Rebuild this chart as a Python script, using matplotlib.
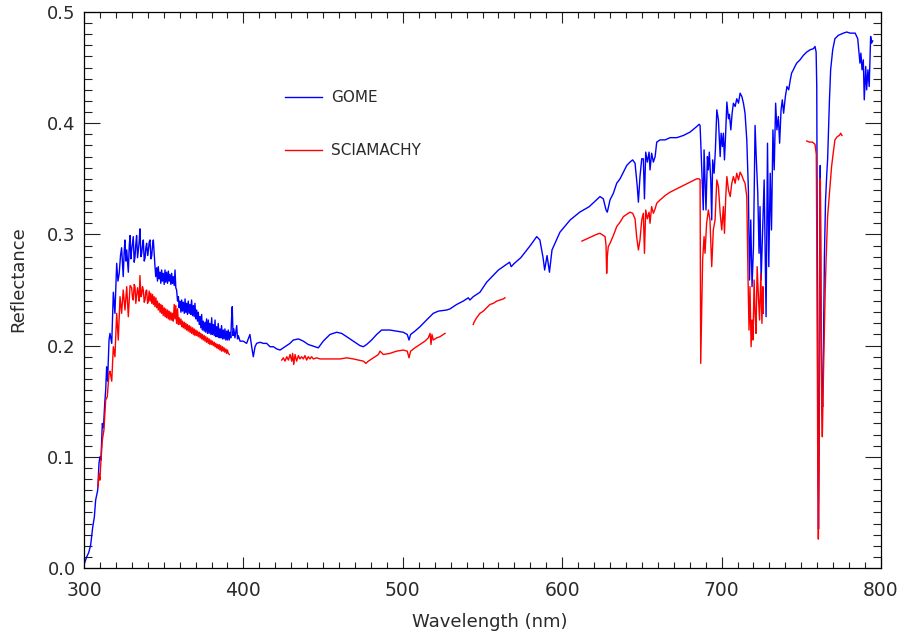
import numpy as np
import matplotlib
matplotlib.use('Agg')
import matplotlib.pyplot as plt
from matplotlib.ticker import MultipleLocator

# GOME reflectance spectrum (wavelength in nm, reflectance)
gome_wl = [
    300.0, 301.7, 303.0, 304.2, 305.4, 306.5, 307.3, 308.6, 309.4, 310.0,
    310.6, 311.5, 312.2, 313.0, 313.6, 314.2, 314.8, 315.7, 316.3, 317.4,
    318.4, 319.4, 320.5, 321.3, 322.1, 322.9, 323.6, 324.6, 325.2, 325.7,
    326.3, 326.8, 327.8, 328.4, 328.9, 329.4, 329.9, 330.4, 330.9, 331.5,
    332.0, 332.5, 333.0, 333.6, 334.1, 334.6, 335.1, 335.7, 336.2, 336.7,
    337.2, 337.8, 338.3, 338.8, 339.3, 339.9, 340.4, 340.9, 341.4, 342.0,
    342.5, 343.0, 343.5, 344.0, 344.5, 345.0, 345.6, 346.1, 346.6, 347.2,
    347.7, 348.2, 348.7, 349.2, 349.7, 350.3, 350.8, 351.3, 351.8, 352.4,
    352.9, 353.4, 353.9, 354.5, 355.0, 355.5, 356.0, 356.6, 357.1, 357.6,
    358.1, 358.7, 359.2, 359.7, 360.2, 360.8, 361.3, 361.8, 362.3, 362.9,
    363.4, 363.9, 364.4, 364.9, 365.4, 366.0, 366.5, 367.0, 367.5, 368.1,
    368.6, 369.1, 369.6, 370.2, 370.7, 371.2, 371.7, 372.3, 372.8, 373.3,
    373.8, 374.3, 374.8, 375.4, 375.9, 376.4, 376.9, 377.5, 378.0, 378.5,
    379.0, 379.6, 380.1, 380.6, 381.1, 381.7, 382.2, 382.7, 383.2, 383.7,
    384.2, 384.8, 385.3, 385.8, 386.3, 386.9, 387.4, 387.9, 388.4, 389.0,
    389.5, 390.0, 390.5, 391.1, 391.6, 392.1, 392.5, 393.0, 393.5, 394.0,
    394.7, 395.3, 395.8, 396.3, 396.8, 397.9, 399.9, 402.0, 404.1,
    405.2, 406.2, 407.3, 408.3, 410.4, 412.5, 414.6, 416.7, 418.8, 420.9,
    423.0, 425.1, 427.2, 429.2, 431.3, 434.5, 437.6, 440.7, 444.9, 447.0,
    450.1, 454.3, 458.5, 461.6, 464.8, 468.9, 473.1, 475.2, 477.3, 480.4,
    483.6, 486.7, 491.9, 496.1, 500.3, 502.8, 503.9, 504.9, 507.6, 510.8,
    514.9, 519.1, 522.3, 527.5, 529.6, 533.8, 537.9, 541.1, 542.1, 544.2,
    548.4, 552.6, 556.0, 560.0, 564.0, 567.0, 568.0, 570.0, 574.0, 580.0,
    584.0, 586.0, 588.0, 589.0, 590.5, 592.0, 593.6, 598.6, 605.0, 611.0,
    617.0, 623.7, 625.8, 627.5, 628.3, 630.0, 632.1, 634.2, 636.3, 638.4,
    640.5, 642.5, 644.2, 645.7, 647.1, 647.8, 648.8, 649.9, 650.9, 651.6,
    652.4, 653.4, 654.5, 655.1, 656.1, 657.2, 658.3, 659.3, 661.4, 664.6,
    667.7, 671.9, 676.1, 680.2, 684.4, 685.9, 686.5, 687.1, 688.5, 689.0,
    689.6, 690.2, 691.1, 691.7, 692.3, 693.2, 693.8, 694.4, 695.3, 696.1,
    697.0, 698.0, 699.1, 699.7, 700.5, 701.1, 701.8, 702.4, 703.3, 704.3,
    704.9, 705.8, 706.6, 707.4, 708.5, 709.5, 710.6, 711.6, 712.7, 713.7,
    714.7, 715.8, 716.8, 717.5, 718.3, 719.1, 720.0, 721.0, 721.8, 722.7,
    723.5, 724.1, 724.8, 725.6, 726.7, 727.3, 727.9, 728.8, 729.6, 730.5,
    731.3, 732.2, 733.0, 733.9, 734.7, 735.6, 736.4, 737.3, 738.1, 738.9,
    740.0, 741.0, 742.1, 743.1, 743.9, 745.0, 746.0, 747.1, 749.2, 751.3,
    753.4, 755.5, 757.6, 758.6, 759.3, 759.7, 760.1, 760.5, 760.8, 761.2,
    761.6, 761.9, 762.3, 762.8, 763.4, 763.9, 764.5, 765.2, 766.0, 766.5,
    767.6, 768.4, 769.7, 771.1, 773.2, 776.4, 778.5, 780.6, 783.8, 785.4,
    786.4, 786.8, 787.4, 788.1, 788.9, 789.5, 790.4, 791.0, 791.8, 792.6,
    793.5, 794.1, 794.8,
]
gome_refl = [
    0.003, 0.010, 0.014, 0.021, 0.036, 0.046, 0.061, 0.070, 0.094, 0.100,
    0.097, 0.130, 0.126, 0.148, 0.160, 0.181, 0.168, 0.205, 0.211, 0.202,
    0.248, 0.229, 0.274, 0.258, 0.265, 0.281, 0.288, 0.262, 0.284, 0.295,
    0.276, 0.286, 0.266, 0.290, 0.299, 0.278, 0.286, 0.292, 0.298, 0.275,
    0.280, 0.291, 0.299, 0.279, 0.286, 0.293, 0.305, 0.280, 0.283, 0.290,
    0.295, 0.276, 0.279, 0.288, 0.292, 0.281, 0.286, 0.293, 0.295, 0.278,
    0.281, 0.290, 0.295, 0.283, 0.272, 0.262, 0.270, 0.258, 0.271, 0.260,
    0.266, 0.256, 0.268, 0.258, 0.265, 0.255, 0.268, 0.257, 0.266, 0.256,
    0.267, 0.258, 0.264, 0.255, 0.265, 0.256, 0.262, 0.254, 0.268, 0.252,
    0.250, 0.240, 0.244, 0.234, 0.240, 0.230, 0.241, 0.231, 0.239, 0.229,
    0.242, 0.230, 0.238, 0.228, 0.240, 0.229, 0.237, 0.228, 0.241, 0.227,
    0.236, 0.226, 0.238, 0.224, 0.232, 0.222, 0.230, 0.219, 0.226, 0.216,
    0.228, 0.214, 0.222, 0.213, 0.221, 0.212, 0.224, 0.211, 0.223, 0.211,
    0.220, 0.210, 0.225, 0.210, 0.219, 0.209, 0.223, 0.208, 0.217, 0.208,
    0.220, 0.207, 0.215, 0.207, 0.218, 0.206, 0.214, 0.206, 0.215, 0.205,
    0.213, 0.205, 0.214, 0.205, 0.212, 0.207, 0.222, 0.235, 0.209, 0.215,
    0.207, 0.213, 0.218, 0.206, 0.209, 0.204, 0.204, 0.202, 0.210,
    0.199, 0.190, 0.199, 0.202, 0.203, 0.202, 0.202, 0.199, 0.199, 0.197,
    0.196, 0.198, 0.200, 0.202, 0.205, 0.206, 0.204, 0.201, 0.199, 0.198,
    0.204, 0.210, 0.212, 0.211, 0.208, 0.204, 0.200, 0.199, 0.201, 0.205,
    0.210, 0.214, 0.214, 0.213, 0.212, 0.210, 0.205, 0.210, 0.213, 0.217,
    0.223, 0.229, 0.231, 0.232, 0.233, 0.237, 0.240, 0.243, 0.241, 0.244,
    0.248, 0.257, 0.262, 0.268, 0.272, 0.275, 0.271, 0.274, 0.279, 0.290,
    0.298, 0.295, 0.279, 0.268, 0.281, 0.266, 0.286, 0.302, 0.313, 0.320,
    0.325, 0.334, 0.332, 0.322, 0.320, 0.331, 0.337, 0.346, 0.350, 0.356,
    0.362, 0.365, 0.367, 0.364, 0.343, 0.329, 0.352, 0.368, 0.368, 0.332,
    0.374, 0.365, 0.374, 0.358, 0.373, 0.365, 0.370, 0.383, 0.385, 0.385,
    0.387, 0.387, 0.389, 0.392, 0.397, 0.399, 0.398, 0.376, 0.322, 0.376,
    0.349, 0.322, 0.370, 0.358, 0.374, 0.349, 0.313, 0.367, 0.355, 0.376,
    0.412, 0.403, 0.370, 0.391, 0.379, 0.391, 0.367, 0.386, 0.419, 0.404,
    0.408, 0.394, 0.409, 0.418, 0.415, 0.422, 0.418, 0.427, 0.424, 0.418,
    0.409, 0.385, 0.340, 0.259, 0.313, 0.253, 0.289, 0.398, 0.367, 0.337,
    0.283, 0.325, 0.259, 0.298, 0.349, 0.289, 0.226, 0.382, 0.271, 0.355,
    0.304, 0.394, 0.358, 0.418, 0.394, 0.406, 0.382, 0.412, 0.421, 0.409,
    0.424, 0.433, 0.430, 0.439, 0.445, 0.448, 0.451, 0.454, 0.457, 0.461,
    0.464, 0.466, 0.467, 0.469, 0.464, 0.433, 0.250, 0.080, 0.035, 0.120,
    0.300, 0.362, 0.250, 0.160, 0.145, 0.200, 0.280, 0.330, 0.355, 0.367,
    0.418, 0.448, 0.466, 0.476, 0.479, 0.481, 0.482, 0.481, 0.481, 0.476,
    0.460, 0.454, 0.463, 0.448, 0.457, 0.421, 0.451, 0.430, 0.448, 0.433,
    0.478, 0.472, 0.474,
]

# SCIAMACHY reflectance, delivered in separate spectral windows
scia_uv_wl = [
    308.8, 309.4, 310.0, 310.4, 311.5, 312.5, 313.6, 314.6, 315.7, 316.3,
    317.4, 318.4, 319.4, 320.5, 321.5, 322.6, 323.6, 324.6, 325.7, 326.8,
    327.8, 328.9, 329.9, 330.4, 330.9, 331.5, 332.0, 332.5, 333.0, 333.6,
    334.1, 334.6, 335.1, 335.7, 336.2, 336.7, 337.2, 337.8, 338.3, 338.8,
    339.3, 339.9, 340.4, 340.9, 341.4, 341.9, 342.5, 343.0, 343.5, 344.0,
    344.5, 345.1, 345.6, 346.1, 346.6, 347.2, 347.7, 348.2, 348.7, 349.2,
    349.7, 350.3, 350.8, 351.3, 351.8, 352.4, 352.9, 353.4, 353.9, 354.5,
    355.0, 355.5, 356.0, 356.6, 357.1, 357.6, 358.1, 358.7, 359.2, 359.7,
    360.2, 360.8, 361.3, 361.8, 362.3, 362.9, 363.4, 363.9, 364.4, 364.9,
    365.4, 366.0, 366.5, 367.0, 367.5, 368.1, 368.6, 369.1, 369.6, 370.2,
    370.7, 371.2, 371.7, 372.3, 372.8, 373.3, 373.8, 374.3, 374.8, 375.4,
    375.9, 376.4, 376.9, 377.5, 378.0, 378.5, 379.0, 379.6, 380.1, 380.6,
    381.1, 381.7, 382.2, 382.7, 383.2, 383.7, 384.2, 384.8, 385.3, 385.8,
    386.3, 386.9, 387.4, 387.9, 388.4, 389.0, 389.5, 390.0, 390.5, 391.2,
]
scia_uv_refl = [
    0.073, 0.085, 0.079, 0.091, 0.115, 0.124, 0.151, 0.154, 0.175, 0.177,
    0.168, 0.199, 0.190, 0.229, 0.205, 0.244, 0.229, 0.250, 0.232, 0.253,
    0.226, 0.254, 0.252, 0.243, 0.241, 0.255, 0.253, 0.238, 0.244, 0.252,
    0.247, 0.240, 0.263, 0.244, 0.246, 0.253, 0.250, 0.239, 0.241, 0.249,
    0.250, 0.238, 0.241, 0.249, 0.240, 0.247, 0.238, 0.246, 0.237, 0.244,
    0.235, 0.243, 0.234, 0.240, 0.232, 0.238, 0.230, 0.237, 0.229, 0.236,
    0.227, 0.234, 0.226, 0.233, 0.225, 0.232, 0.224, 0.231, 0.223, 0.230,
    0.223, 0.229, 0.222, 0.237, 0.224, 0.236, 0.220, 0.233, 0.219, 0.225,
    0.219, 0.224, 0.217, 0.222, 0.216, 0.221, 0.215, 0.220, 0.214, 0.219,
    0.213, 0.218, 0.212, 0.217, 0.211, 0.216, 0.210, 0.215, 0.209, 0.214,
    0.209, 0.213, 0.208, 0.212, 0.207, 0.211, 0.206, 0.210, 0.205, 0.209,
    0.204, 0.208, 0.203, 0.207, 0.202, 0.206, 0.201, 0.205, 0.201, 0.204,
    0.200, 0.203, 0.199, 0.202, 0.198, 0.201, 0.197, 0.201, 0.196, 0.200,
    0.195, 0.199, 0.195, 0.198, 0.194, 0.197, 0.193, 0.196, 0.193, 0.192,
]
scia_vis_wl = [
    424.0, 425.1, 426.1, 427.2, 428.2, 429.3, 430.3, 430.9, 431.6, 432.4,
    433.4, 434.5, 435.5, 436.5, 437.6, 438.6, 439.7, 440.7, 441.8, 442.8,
    443.9, 446.0, 448.1, 452.3, 456.5, 460.6, 464.8, 469.0, 472.2, 475.3,
    476.8, 478.4, 481.5, 484.7, 485.7, 487.8, 491.9, 496.1, 500.3, 502.8,
    503.9, 504.9, 507.6, 510.8, 513.9, 516.0, 517.1, 517.7, 518.3, 519.1,
    521.3, 523.3, 525.4, 526.5,
]
scia_vis_refl = [
    0.187, 0.189, 0.186, 0.190, 0.187, 0.192, 0.186, 0.193, 0.183, 0.192,
    0.186, 0.191, 0.188, 0.190, 0.188, 0.191, 0.187, 0.190, 0.188, 0.190,
    0.188, 0.189, 0.188, 0.188, 0.188, 0.188, 0.189, 0.188, 0.187, 0.186,
    0.184, 0.186, 0.189, 0.192, 0.195, 0.192, 0.193, 0.195, 0.196, 0.195,
    0.189, 0.195, 0.198, 0.201, 0.204, 0.207, 0.211, 0.201, 0.210, 0.205,
    0.207, 0.208, 0.210, 0.211,
]
scia_grn_wl = [
    544.2, 544.7, 546.3, 548.4, 550.5, 552.6, 554.7, 556.8, 558.9, 561.0,
    563.1, 564.1,
]
scia_grn_refl = [
    0.219, 0.221, 0.225, 0.229, 0.231, 0.234, 0.237, 0.238, 0.240, 0.241,
    0.242, 0.243,
]
scia_red_wl = [
    612.4, 615.5, 618.5, 621.5, 623.7, 625.8, 626.9, 627.5, 627.9, 628.3,
    628.9, 630.0, 632.1, 634.2, 636.3, 638.4, 640.5, 642.5, 644.2, 645.7,
    646.7, 647.8, 648.8, 649.9, 650.9, 651.6, 652.4, 653.4, 654.5, 655.1,
    656.1, 657.2, 658.3, 659.3, 661.4, 664.6, 667.7, 671.9, 676.1, 680.2,
    684.4, 685.9, 686.5, 686.9, 687.5, 688.1, 689.0, 689.6, 690.6, 691.7,
    692.7, 693.8, 694.8, 695.9, 697.0, 698.0, 699.1, 700.1, 701.1, 701.8,
    702.6, 703.3, 704.3, 705.4, 706.4, 707.4, 708.5, 709.5, 710.6, 711.6,
    712.7, 713.7, 714.7, 715.8, 716.6, 717.2, 717.8, 718.5, 719.1, 719.7,
    720.4, 721.0, 721.6, 722.3, 723.1, 723.8, 724.6, 725.3, 725.9, 726.2,
]
scia_red_refl = [
    0.294, 0.296, 0.298, 0.300, 0.301, 0.299, 0.298, 0.290, 0.265, 0.280,
    0.289, 0.292, 0.299, 0.307, 0.311, 0.316, 0.318, 0.320, 0.319, 0.314,
    0.298, 0.286, 0.295, 0.313, 0.319, 0.283, 0.322, 0.314, 0.320, 0.310,
    0.325, 0.319, 0.323, 0.328, 0.331, 0.335, 0.338, 0.341, 0.344, 0.347,
    0.350, 0.350, 0.349, 0.184, 0.229, 0.277, 0.298, 0.283, 0.310, 0.322,
    0.313, 0.271, 0.304, 0.313, 0.349, 0.343, 0.319, 0.304, 0.325, 0.301,
    0.334, 0.352, 0.340, 0.334, 0.346, 0.352, 0.346, 0.355, 0.349, 0.356,
    0.353, 0.349, 0.346, 0.334, 0.259, 0.214, 0.253, 0.199, 0.223, 0.205,
    0.259, 0.229, 0.211, 0.271, 0.244, 0.223, 0.265, 0.220, 0.253, 0.229,
]
scia_nir_wl = [
    753.4, 755.0, 757.0, 758.6, 759.4, 759.9, 760.3, 760.7, 761.1, 761.5,
    761.9, 762.3, 762.8, 763.2, 763.7, 764.3, 765.0, 765.6, 766.5, 767.5,
    768.4, 769.0, 770.0, 771.1, 772.6, 773.9, 774.7, 775.5,
]
scia_nir_refl = [
    0.384, 0.383, 0.383, 0.381, 0.372, 0.250, 0.100, 0.026, 0.090, 0.280,
    0.350, 0.250, 0.140, 0.118, 0.160, 0.200, 0.250, 0.279, 0.316, 0.334,
    0.350, 0.361, 0.373, 0.385, 0.388, 0.389, 0.391, 0.389,
]

# join the SCIAMACHY windows with NaN gaps so they plot as one broken line
scia_segments = [(scia_uv_wl, scia_uv_refl), (scia_vis_wl, scia_vis_refl),
                 (scia_grn_wl, scia_grn_refl), (scia_red_wl, scia_red_refl),
                 (scia_nir_wl, scia_nir_refl)]
scia_wl, scia_refl = [], []
for w, r in scia_segments:
    scia_wl += list(w) + [np.nan]
    scia_refl += list(r) + [np.nan]

text_col = '#2a2a2a'

fig = plt.figure(figsize=(9.0, 6.33), dpi=100)
ax = fig.add_axes([84 / 900, 65 / 633, 797 / 900, 556 / 633])

ax.plot(gome_wl, gome_refl, color='#0000ff', lw=1.0, label='GOME')
ax.plot(scia_wl, scia_refl, color='#ff0000', lw=1.0, label='SCIAMACHY')

ax.set_xlim(300, 800)
ax.set_ylim(0.0, 0.5)

ax.xaxis.set_major_locator(MultipleLocator(100))
ax.xaxis.set_minor_locator(MultipleLocator(10))
ax.yaxis.set_major_locator(MultipleLocator(0.1))
ax.yaxis.set_minor_locator(MultipleLocator(0.01))
ax.yaxis.set_major_formatter(plt.FormatStrFormatter('%.1f'))

ax.tick_params(axis='both', which='both', direction='in', top=True, right=True,
               color='#222222', width=0.8)
ax.tick_params(axis='x', which='major', length=8, labelsize=13.5, pad=9,
               labelcolor=text_col)
ax.tick_params(axis='x', which='minor', length=4)
ax.tick_params(axis='y', which='major', length=11.5, labelsize=13, pad=6,
               labelcolor=text_col)
ax.tick_params(axis='y', which='minor', length=5.8)
for s in ax.spines.values():
    s.set_linewidth(0.9)
    s.set_color('black')

fig.text(490 / 900, 1 - 622 / 633, 'Wavelength (nm)', ha='center', va='center',
         fontsize=13, color=text_col)
fig.text(18 / 900, 1 - 279 / 633, 'Reflectance', ha='center', va='center',
         rotation=90, fontsize=13, color=text_col)

ax.legend(loc='upper left', bbox_to_anchor=((285 - 84) / 797, (568 - 90) / 556),
          frameon=False, fontsize=11, handlelength=2.4, handletextpad=0.6,
          labelspacing=2.5, borderpad=0, borderaxespad=0, labelcolor=text_col)

fig.savefig('out.png', dpi=100)
